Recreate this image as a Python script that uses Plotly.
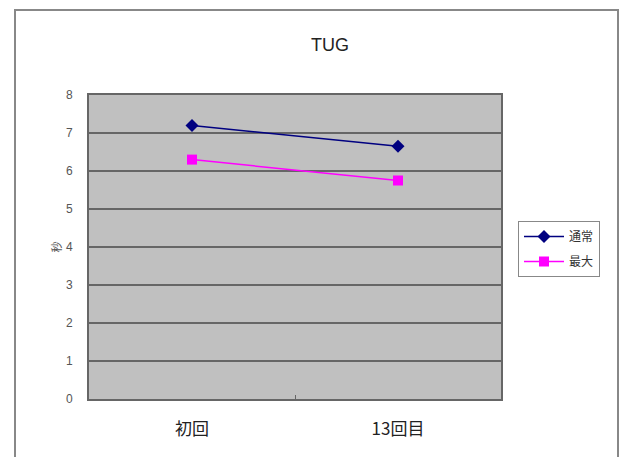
import plotly.graph_objects as go

# Data
sessions = ["初回", "13回目"]
normal_speed = [7.2, 6.65]   # 通常
max_speed = [6.3, 5.75]      # 最大
y_ticks = [0, 1, 2, 3, 4, 5, 6, 7, 8]

W, H = 621, 457
L, R, T, B = 89, 120, 95, 58
pw, ph = W - L - R, H - T - B

def px_x(x):
    return (x - L) / pw

def px_y(y):
    return (H - B - y) / ph

fig = go.Figure()
fig.add_trace(go.Scatter(
    x=sessions, y=normal_speed, name="通常", mode="lines+markers", legendgroup="a",
    line=dict(color="#000080", width=1.5),
    marker=dict(symbol="diamond", size=10, color="#000080"),
))
fig.add_trace(go.Scatter(
    x=sessions, y=max_speed, name="最大", mode="lines+markers", legendgroup="b",
    line=dict(color="#FF00FF", width=1.5),
    marker=dict(symbol="square", size=10, color="#FF00FF"),
))

cjk = "Noto Sans CJK JP"

fig.update_layout(
    width=W, height=H,
    margin=dict(l=L, r=R, t=T, b=B),
    paper_bgcolor="white",
    plot_bgcolor="#c0c0c0",
    title=dict(text="TUG", xref="container", x=330 / W, xanchor="center",
               yref="container", y=1 - 45 / H, yanchor="middle",
               font=dict(family="Liberation Sans, Arial", size=18, color="#222")),
    xaxis=dict(
        type="category", range=[-0.5, 1.5],
        tickson="boundaries", ticks="inside", ticklen=4, tickcolor="#666",
        showgrid=False, showline=True, linecolor="#666", linewidth=2, mirror=True,
        tickfont=dict(family=cjk, size=17, color="#222"),
        ticklabelstandoff=14,
    ),
    yaxis=dict(
        range=[0, 8], tickvals=y_ticks, ticks="",
        showgrid=True, gridcolor="#666666", gridwidth=2,
        showline=True, linecolor="#666", linewidth=2, mirror=True,
        zeroline=False,
        tickfont=dict(family="Liberation Sans, Arial", size=12, color="#555"),
        ticklabelstandoff=12,
        title=dict(text="秒", font=dict(family=cjk, size=11, color="#555"), standoff=2),
    ),
    legend=dict(
        x=px_x(518), y=px_y(221), xanchor="left", yanchor="top",
        bgcolor="white", bordercolor="#888", borderwidth=1,
        font=dict(family=cjk, size=12, color="#333"),
        itemwidth=40, tracegroupgap=6,
    ),
    showlegend=True,
)

# Outer chart-area frame
fig.add_shape(type="rect", xref="paper", yref="paper",
              x0=px_x(15), x1=px_x(618), y0=px_y(475), y1=px_y(10),
              line=dict(color="#888", width=2), fillcolor="rgba(0,0,0,0)", layer="below")

fig.write_html("out.html")
